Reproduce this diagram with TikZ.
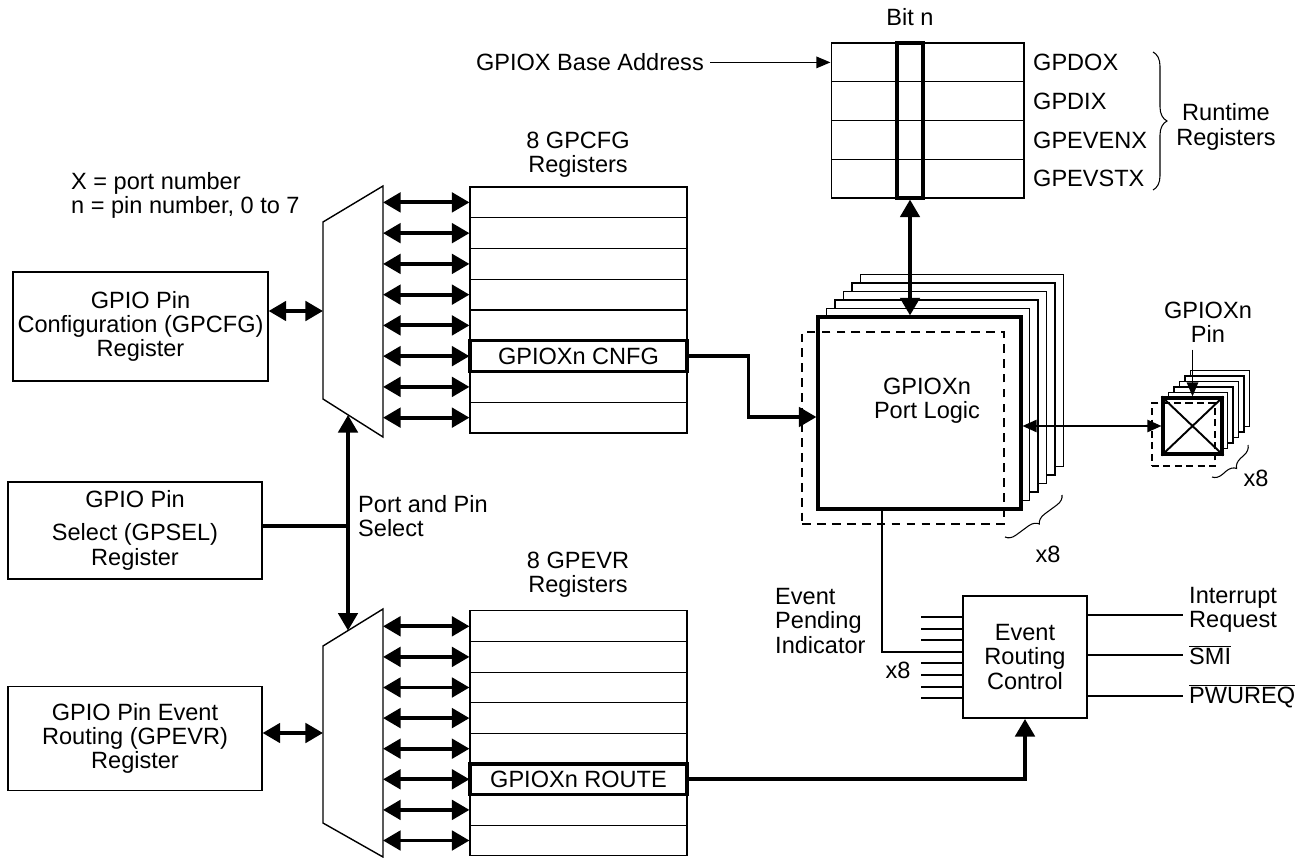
\documentclass[tikz,border=0pt]{standalone}
\usepackage{fontspec}
\setmainfont{Liberation Sans}
\usetikzlibrary{positioning,arrows.meta,calc,decorations.pathreplacing}
\newcommand{\dfont}{\fontsize{13.4pt}{13.8pt}\selectfont}

\begin{document}
\begin{tikzpicture}[x=0.02cm, y=-0.02cm, font=\dfont,
    box/.style={draw, line width=0.7pt, align=center, inner sep=1pt},
    regrow/.style={draw, line width=0.6pt, minimum width=4.34cm, minimum height=0.615cm, inner sep=0pt},
    hotrow/.style={regrow, line width=1.8pt},
    rtrow/.style={draw, line width=0.6pt, minimum width=3.86cm, minimum height=0.775cm},
    bus/.style={line width=2.2pt, >={Triangle[length=10pt,width=11pt]}, <->},
    fat/.style={line width=2.2pt, -{Triangle[length=10pt,width=11pt]}},
    sig/.style={line width=1.1pt},
    thinarr/.style={line width=0.9pt, -{Triangle[length=8pt,width=6.5pt]}},
    stackbox/.style={draw, line width=0.8pt, fill=white, minimum width=4.06cm, minimum height=3.84cm},
    pinbox/.style={draw, line width=0.8pt, fill=white, minimum width=1.18cm, minimum height=1.12cm},
    ghost/.style={draw, line width=0.8pt, dash pattern=on 5pt off 3.5pt},
    lbl/.style={align=center, inner sep=4pt},
    xbrace/.style={decorate, decoration={brace, amplitude=0.2cm}, line width=0.6pt},
    rtbrace/.style={decorate, decoration={brace, amplitude=0.28cm}, line width=0.6pt}
]
\useasboundingbox (0,0) rectangle (1309,858);

% Runtime registers
\foreach \i/\r in {0/GPDOX,1/GPDIX,2/GPEVENX,3/GPEVSTX} {
  \node[rtrow] (rt\i) at (927.5,62.4+38.75*\i) {};
  \node[anchor=west] (rtl\i) at (1027,62.4+38.75*\i) {\r};
}
\node[draw, line width=1.8pt, minimum width=0.52cm, minimum height=3.1cm] (bitn) at (910,120.5) {};
\node (bitlbl) at (910,17) {Bit n};
\node[anchor=east] (base) at (710,62.4) {GPIOX Base Address};
\draw[thinarr] (base.east) -- (rt0.west);
\draw[rtbrace] (1153,52) -- (1153,190);
\node[lbl] (rtname) at (1226,127) {Runtime\\Registers};

% Port logic (x8)
\foreach \k in {5,4,...,1}
  \node[stackbox] (plb\k) at (919.5+8.5*\k,413-8.5*\k) {};
\node[stackbox, line width=1.8pt] (plogic) at (919.5,413) {};
\node[ghost, minimum width=4.04cm, minimum height=3.84cm] (pldash) at (903,428) {};
\node[lbl] (pltext) at (927,401) {GPIOXn\\Port Logic};
\draw[bus] (bitn.south) -- (bitn.south |- plogic.north);
\draw[xbrace] (1062,495) -- (1005,537);
\node (plx8) at (1048,554) {x8};

% Pins (x8)
\foreach \k in {5,4,...,1}
  \node[pinbox] (pinb\k) at (1192.5+5.5*\k,426-5.5*\k) {};
\node[pinbox, line width=1.8pt] (pin) at (1192.5,426) {};
\draw[line width=1.1pt] (pin.north west) -- (pin.south east) (pin.north east) -- (pin.south west);
\node[ghost, dash pattern=on 4pt off 2.5pt, minimum width=1.26cm, minimum height=1.26cm] (pindash) at (1183.5,434.5) {};
\node[lbl] (pinlbl) at (1208,322) {GPIOXn\\Pin};
\draw[thinarr] (pin.north |- pinlbl.south) -- (pin.north);
\draw[line width=0.9pt, >={Triangle[length=8pt,width=7pt]}, <->] (pin.west) -- (pin.west -| plogic.east);
\draw[xbrace] (1248,445) -- (1212,477);
\node (pinx8) at (1256,478) {x8};

% Configuration side
\node[anchor=west, align=left] (note) at (65,195.5) {X = port number\\n = pin number, 0 to 7};
\node[box, minimum width=5.1cm, minimum height=2.18cm] (gpcfg) at (140.5,326.5) {GPIO Pin\\Configuration (GPCFG)\\Register};
\draw[line width=0.8pt] (323,222) -- (383,186) coordinate (muxA-ne) -- (383,437) -- (323,399) -- cycle;
\coordinate (muxA-in) at (323,311);
\coordinate (muxA-s) at (348,415);
\draw[bus] (muxA-in -| gpcfg.east) -- (muxA-in);
\foreach \i in {0,...,7} {
  \node[regrow] (cfg\i) at (578.5,202.4+30.75*\i) {};
  \draw[bus] (cfg\i.west) -- (cfg\i.west -| muxA-ne);
}
\node[hotrow] (cnfg) at (cfg5) {GPIOXn CNFG};
\node[lbl] (cfgtitle) at (578,155) {8 GPCFG\\Registers};
\draw[fat] (cnfg.east) -- ++(60,0) |- ($(plogic.west)+(0,4)$);

% Event routing side
\draw[line width=0.8pt] (323,646) -- (383,609) coordinate (muxB-ne) -- (383,857) -- (323,823) -- cycle;
\coordinate (muxB-in) at (323,733);
\coordinate (muxB-n) at (348,630.6);
\node[box, minimum width=5.08cm, minimum height=2.08cm] (gpevr) at (135,738.5) {GPIO Pin Event\\Routing (GPEVR)\\Register};
\draw[bus] (muxB-in -| gpevr.east) -- (muxB-in);
\foreach \i in {0,...,7} {
  \node[regrow] (evr\i) at (578.5,626.3+30.6*\i) {};
  \draw[bus] (evr\i.west) -- (evr\i.west -| muxB-ne);
}
\node[hotrow] (route) at (evr5) {GPIOXn ROUTE};
\node[lbl] (evrtitle) at (578,575) {8 GPEVR\\Registers};

% Port and pin select
\node[box, minimum width=5.08cm, minimum height=1.94cm] (gpsel) at (135,530.5) {GPIO Pin\\[5pt]Select (GPSEL)\\Register};
\coordinate (selj) at (348,526);
\draw[line width=2pt] (selj -| gpsel.east) -- (selj);
\draw[fat] (selj) -- (muxA-s);
\draw[fat] (selj) -- (muxB-n);
\node[anchor=west, align=left] (pps) at (352,516) {Port and Pin\\Select};

% Event routing control
\node[box, line width=1.1pt, minimum width=2.48cm, minimum height=2.44cm] (erc) at (1025,657) {Event\\Routing\\Control};
\foreach \i in {0,...,7} {
  \coordinate (ein\i) at ($(erc.north west)+(0,22+11.6*\i)$);
  \draw[sig] (ein\i) -- ++(-41,0);
}
\draw[sig] ([xshift=-0.75cm]plogic.south) |- (ein3);
\node[anchor=west, align=left] (epi) at (769,621) {Event\\Pending\\Indicator};
\node (ercx8) at (898,670) {x8};
\draw[fat] (route.east) -| (erc.south);

\node[anchor=west, align=left] (irq) at (1183,610) {Interrupt\\Request};
\node[anchor=west] (smi) at (1183,655) {$\overline{\hbox{SMI}}$};
\node[anchor=west] (pwu) at (1183,696) {$\overline{\hbox{PWUREQ}}$};
\draw[sig] (erc.east |- 0,615) -- (irq.west |- 0,615);
\draw[sig] (erc.east |- smi.west) -- (smi.west);
\draw[sig] (erc.east |- pwu.west) -- (pwu.west);
\end{tikzpicture}
\end{document}
